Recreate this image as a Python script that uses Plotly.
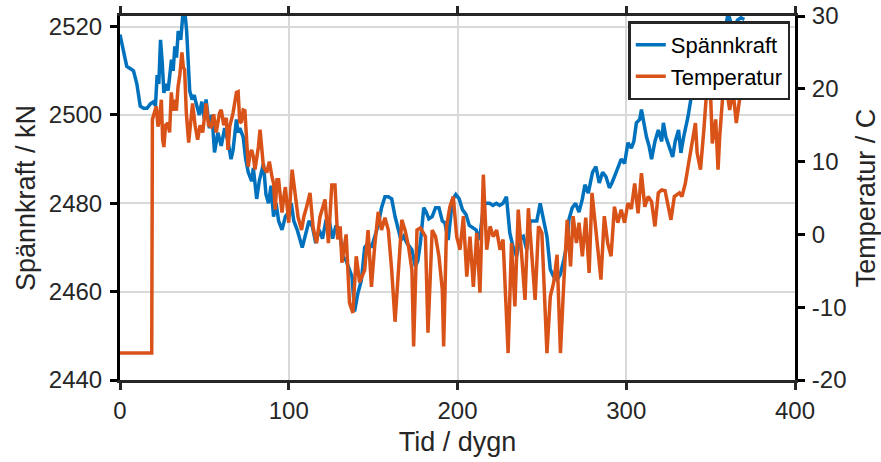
import plotly.graph_objects as go

# Spännkraft (kN) over time (days)
kraft_dag = [0, 2, 4, 6, 8, 10, 12, 14, 16, 18, 20, 21, 22, 23, 24, 25, 26, 27.5, 28.5, 30.5,
             31.5, 32.5, 33.5, 34.5, 36, 37.3, 38.5, 39.5, 41.3, 42.7, 44, 45, 47, 48.5, 50, 51,
             53, 54.5, 56, 58, 60, 62, 64, 65.8, 67, 69, 70, 71, 73, 74.5, 76, 78, 79, 81, 82.5,
             85, 86.5, 88, 89.5, 91, 92.5, 94, 96, 98, 100, 101.5, 103, 105, 106.5, 108, 110,
             112, 114, 116, 118, 120, 122, 124, 126, 128, 130, 132, 134, 137.5, 139, 141, 143,
             145, 147, 149, 151, 153, 155, 157, 159, 161, 163, 165, 166.5, 168, 170, 173, 175,
             176.5, 178, 180, 181.5, 183, 185, 187, 189, 191, 192.5, 194.5, 197, 199, 201, 203,
             205, 207, 209, 211, 213, 215.5, 217, 219, 221, 223, 225, 227, 229, 231, 233, 235,
             237, 239, 241, 243, 245, 247, 249, 251, 253, 255, 257, 259, 261, 263, 265, 266,
             268, 270, 272, 274, 275.5, 277.5, 280, 282, 284, 286, 288, 290, 291.5, 294, 297,
             299, 301, 303, 304.5, 306, 308, 309, 310.5, 312, 313.5, 315, 317, 319, 321, 322,
             323.5, 324.6, 326, 327.5, 329, 331, 332.4, 334, 336.6, 338, 339.5, 341, 342.5,
             344.5, 346.5, 348, 350, 352, 354.4, 356, 357.3, 359, 360.3, 362, 364, 366, 368, 370]
kraft_kn = [2518.2, 2515, 2511, 2510.5, 2510, 2507, 2502, 2501.5, 2501.5, 2502.5, 2503, 2502,
            2509, 2507, 2517, 2512, 2505, 2507, 2505.5, 2512.5, 2510, 2515.5, 2513, 2519, 2517,
            2523, 2523, 2519, 2505.5, 2503.5, 2504.5, 2502.8, 2500, 2503, 2499, 2503.5, 2497,
            2500, 2491.5, 2496, 2493, 2497, 2494, 2490, 2492, 2499, 2496, 2497, 2495, 2490,
            2487, 2485, 2488, 2481, 2485, 2489, 2482, 2480, 2484, 2477, 2480, 2476, 2474, 2477,
            2478, 2480, 2476, 2474, 2472, 2470, 2473, 2476, 2474.7, 2471, 2474, 2472, 2476,
            2476, 2472, 2475, 2474, 2468, 2467, 2463.4, 2455.5, 2459.7, 2462.5, 2470, 2471,
            2470, 2472.5, 2475, 2479, 2481.5, 2481.5, 2481, 2477, 2474, 2471.7, 2472.5, 2471,
            2469.5, 2465.7, 2467, 2471, 2479, 2478, 2476.5, 2477, 2479, 2479, 2476, 2475.6,
            2471.7, 2480.8, 2482, 2481, 2478.5, 2477.5, 2475, 2474.5, 2474, 2471.7, 2479.5,
            2480, 2480, 2479.5, 2480, 2479.5, 2480, 2481.5, 2473.3, 2470, 2468, 2472, 2472.5,
            2469.5, 2476, 2476, 2476, 2480, 2476, 2472.5, 2465, 2463.4, 2462.7, 2464, 2467.2,
            2471, 2476.3, 2479, 2480, 2478, 2481, 2484.2, 2482.3, 2487, 2488.3, 2484.6, 2487,
            2486, 2483.5, 2484.6, 2487, 2490, 2489, 2493.7, 2492.5, 2494, 2498.2, 2499, 2501.2,
            2497.5, 2495, 2493, 2490, 2494, 2496.6, 2494, 2498.2, 2495, 2493.7, 2492, 2490.5,
            2494, 2496.6, 2491.4, 2495, 2499.6, 2503, 2506.4, 2508, 2511, 2513, 2516.4, 2513,
            2514, 2510, 2504, 2510, 2516.4, 2520, 2523, 2521, 2520, 2521.5, 2522, 2521.6]

# Temperatur (C) over time (days)
temp_dag = [0, 18.8, 19.2, 20.5, 21.5, 22.5, 23.5, 24.5, 25.3, 26, 27, 28.4, 29.4, 30.4, 31.4,
            32.4, 33.4, 34.4, 35.5, 36.7, 37.5, 38.3, 39.3, 40.7, 41.5, 43, 44.5, 46, 47.5, 49,
            51, 52.5, 54, 55.5, 57, 59, 60, 61.5, 63, 64, 65, 67, 69, 70, 71, 72, 73, 74, 76,
            77, 78, 79, 80, 82, 83, 84, 85, 87, 88.5, 90, 91, 92, 93, 94, 96, 97, 98, 99, 100,
            102, 104, 105.5, 107.6, 109, 110.6, 112.6, 114.4, 116.5, 118.5, 120, 121.5, 123.5,
            125.5, 127.4, 129, 130.5, 131.5, 134, 136, 138, 140, 142, 145, 147, 149, 151, 153,
            155, 157, 159, 161, 163, 165, 167, 169, 171, 173, 174, 176, 178, 181, 182.5, 185,
            187, 189, 191, 191.8, 193.5, 195.5, 197.5, 199.5, 201.5, 203.5, 205.5, 207.4, 209.4,
            211.4, 213.3, 215.3, 217.3, 219.3, 221.2, 223.2, 225.2, 227, 229, 230, 232, 234,
            236, 238, 240, 242, 244, 246, 248, 250, 252, 253, 255, 257, 259, 261, 263, 265,
            267, 268.5, 270.5, 272, 274, 276, 278, 279.7, 282, 284, 285, 287, 289, 291, 293,
            295, 297, 299, 301, 303, 305, 307, 309, 311, 313, 315, 317, 319, 321, 323, 324.5,
            326.5, 328.5, 331.5, 333, 335, 337, 339, 341, 342, 344, 346, 348, 350, 351, 353,
            354.4, 355.4, 357.3, 359.3, 361.3, 363.2, 365.2, 367.2, 369.2, 371]
temp_c = [-16.3, -16.3, 15.8, 17, 17.6, 14.8, 16, 18.5, 13, 12, 15, 15.3, 14, 19.5, 17, 18.5,
          17, 20.3, 22, 25, 23, 22.6, 16.7, 12.6, 14.4, 18, 15, 13, 15, 14, 18, 15, 14.8, 16.5,
          14, 16.7, 17.1, 15, 16, 11.6, 14.8, 16.7, 19.5, 19.6, 15.3, 15.5, 17.1, 17, 9.3, 11,
          11.6, 10.7, 8.9, 12, 14.4, 11, 9.3, 8.5, 10, 8, 7, 3.4, 7.5, 7.5, 3, 5, 6.5, 4, 1.6,
          8.9, 5.2, 2.4, 0.6, 2.5, 3.8, 5.7, 1, -1.2, 2.4, 3.5, 4.8, -1.2, 6.8, 6.8, -0.7, 1.1,
          -3.9, 0, -9.4, -10.8, -3, -6.6, -4.9, 0.6, -7.2, -1.4, 3.1, 0.6, 2.3, 0.6, -4.9, -12,
          -4.9, 2, 0.5, -1.7, -4.9, -15.4, 0.6, 0.9, -0.3, -13.5, 0.6, -0.3, -3, -7.6, -15.4,
          1.1, 3.8, 5.2, -0.3, -2.1, 2.5, -5.8, -0.3, -7.2, 0.2, -8, 8.2, -2.1, 1.1, -0.3, 0.6,
          -2.1, -0.7, -11.7, -16.3, -1.2, -9.9, 3.4, -2.5, -9, 3.6, -2.5, -9, 1.1, 0.2, -10.8,
          -16.3, -8.5, -6.6, -2.8, -16.3, -6.6, 2, -4.4, 2.5, -1.2, 1.6, -3, 2.3, -5.3, 5.7,
          0.6, -3.5, -6.2, 2.5, -1.2, -3, 3.8, 1.6, 3.4, 1.6, 4.3, 3.5, 7, 2.9, 8.4, 3.8, 5.2,
          4.5, 1.1, 5.7, 6.1, 6, 4.3, 2, 5.2, 5.7, 5.2, 7, 9.8, 12.5, 15.3, 11.2, 8.9, 14.4,
          20.8, 19, 12.5, 15.8, 8.9, 13.5, 19.4, 20.3, 17.1, 19.9, 15.3, 18.6, 19.4, 20.8]

x_ticks = [0, 100, 200, 300, 400]
kraft_ticks = [2440, 2460, 2480, 2500, 2520]
temp_ticks = [-20, -10, 0, 10, 20, 30]
temp_labels = ["-20", "-10", "0", "10", "20", "30"]

BLUE = "#0072BD"
ORANGE = "#D95319"
AXIS = "#262626"
GRID = "#d9d9d9"
FONT = "Liberation Sans, Arial, sans-serif"

fig = go.Figure()
fig.add_trace(go.Scatter(x=kraft_dag, y=kraft_kn, name="Spännkraft", mode="lines",
                         line=dict(color=BLUE, width=3.5), yaxis="y"))
fig.add_trace(go.Scatter(x=temp_dag, y=temp_c, name="Temperatur", mode="lines",
                         line=dict(color=ORANGE, width=3.5), yaxis="y2"))

fig.update_layout(
    width=881, height=462,
    margin=dict(l=120, r=86, t=16, b=82),
    paper_bgcolor="white", plot_bgcolor="white",
    font=dict(family=FONT, size=24, color=AXIS),
    showlegend=True,
    legend=dict(x=0.993, y=0.985, xanchor="right", yanchor="top",
                bgcolor="white", bordercolor=AXIS, borderwidth=2.5,
                font=dict(size=22, color="black"),
                itemwidth=30, tracegroupgap=0),
    xaxis=dict(range=[0, 400], tickvals=x_ticks, showgrid=True, gridcolor=GRID, gridwidth=2,
               showline=True, linecolor=AXIS, linewidth=3, mirror="ticks",
               ticks="outside", ticklen=7, tickwidth=2.5, tickcolor=AXIS, automargin=False,
               zeroline=False, title=dict(text="Tid / dygn", font=dict(size=27), standoff=10)),
    yaxis=dict(range=[2440, 2522.4], tickvals=kraft_ticks, showgrid=True, gridcolor=GRID,
               gridwidth=2, showline=True, linecolor="black", linewidth=3,
               ticks="outside", ticklen=7, tickwidth=2.5, tickcolor="black",
               ticklabelstandoff=3, automargin=False,
               zeroline=False, title=dict(text="Spännkraft / kN", font=dict(size=27), standoff=6)),
    yaxis2=dict(range=[-20, 30], tickvals=temp_ticks, ticktext=temp_labels,
                overlaying="y", side="right",
                showgrid=False, showline=True, linecolor="black", linewidth=3,
                ticks="outside", ticklen=7, tickwidth=2.5, tickcolor="black",
                ticklabelstandoff=2, automargin=False,
                zeroline=False, title=dict(text="Temperatur / C", font=dict(size=27), standoff=13)),
)

fig.write_html("out.html")
